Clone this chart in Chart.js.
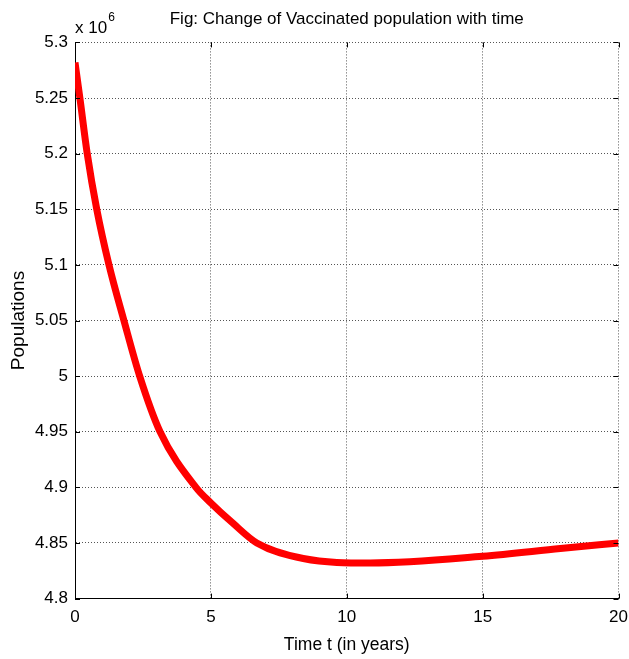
<!DOCTYPE html>
<html>
<head>
<meta charset="utf-8">
<title>Vaccinated population</title>
<script src="https://cdn.jsdelivr.net/npm/chart.js@4.4.1/dist/chart.umd.min.js"></script>
<style>
  html, body { margin: 0; padding: 0; background: #fff; }
  canvas { display: block; }
</style>
</head>
<body>
<canvas id="chart" width="629" height="659"></canvas>
<script>
// time in years, population in millions (axis multiplier x 10^6)
const years = [0, 0.18, 0.45, 0.80, 1.25, 1.80, 2.38, 3.13, 4.45, 5.0, 5.8, 6.69, 8.4, 10.87, 15, 17.86, 20];
const vaccinated = [5.282, 5.25, 5.2, 5.15, 5.1, 5.05, 5.0, 4.95, 4.9, 4.886, 4.868, 4.85, 4.836, 4.832, 4.838, 4.845, 4.85];
const xTicks = [0, 5, 10, 15, 20];
const yMin = 4.8, yMax = 5.3, yStep = 0.05;

const FONT = '"Liberation Sans", Arial, sans-serif';
const titleText = 'Fig: Change of Vaccinated population with time';

// inward tick marks on all four sides, the figure title and the 10^6 multiplier
const matlabFrame = {
  id: 'matlabFrame',
  afterDraw(chart) {
    const { ctx, chartArea: a, scales } = chart;
    const len = 5;
    ctx.save();
    ctx.strokeStyle = '#000';
    ctx.lineWidth = 1;
    ctx.beginPath();
    scales.x.ticks.forEach(t => {
      const x = Math.round(scales.x.getPixelForValue(t.value)) + 0.5;
      ctx.moveTo(x, a.bottom); ctx.lineTo(x, a.bottom - len);
      ctx.moveTo(x, a.top); ctx.lineTo(x, a.top + len);
    });
    scales.y.ticks.forEach(t => {
      const y = Math.round(scales.y.getPixelForValue(t.value)) + 0.5;
      ctx.moveTo(a.left, y); ctx.lineTo(a.left + len, y);
      ctx.moveTo(a.right, y); ctx.lineTo(a.right - len, y);
    });
    ctx.stroke();

    ctx.fillStyle = '#000';
    ctx.font = '17px ' + FONT;
    ctx.textAlign = 'center';
    ctx.textBaseline = 'middle';
    ctx.fillText(titleText, (a.left + a.right) / 2, 19);

    ctx.textAlign = 'left';
    ctx.textBaseline = 'alphabetic';
    ctx.font = '17px ' + FONT;
    ctx.fillText('x 10', a.left, 33);
    const w = ctx.measureText('x 10').width;
    ctx.font = '12px ' + FONT;
    ctx.fillText('6', a.left + w + 1, 21);
    ctx.restore();
  }
};

new Chart(document.getElementById('chart'), {
  type: 'line',
  data: {
    datasets: [{
      label: 'Vaccinated',
      data: years.map((t, i) => ({ x: t, y: vaccinated[i] })),
      borderColor: '#ff0000',
      borderWidth: 7,
      pointRadius: 0,
      cubicInterpolationMode: 'monotone',
      fill: false
    }]
  },
  options: {
    responsive: false,
    animation: false,
    layout: { padding: { top: 42.4, right: 0, left: 0, bottom: 0 } },
    plugins: {
      legend: { display: false },
      tooltip: { enabled: false }
    },
    scales: {
      x: {
        type: 'linear',
        min: 0,
        max: 20,
        afterBuildTicks: s => { s.ticks = xTicks.map(v => ({ value: v })); },
        afterFit: s => {
          s.height = 60.4;
          s.paddingLeft = 0;
          s.paddingRight = 10.5;
        },
        grid: { color: '#555', lineWidth: 1, drawTicks: false },
        border: { display: true, color: '#000', width: 1, dash: [1, 2] },
        ticks: {
          color: '#000',
          padding: 9,
          font: { family: FONT, size: 17 },
          maxRotation: 0,
          autoSkip: false
        },
        title: {
          display: true,
          text: 'Time t (in years)',
          color: '#000',
          font: { family: FONT, size: 17.5 },
          padding: { top: 0, bottom: 3.5 }
        }
      },
      y: {
        min: yMin,
        max: yMax,
        afterFit: s => { s.width = 75; },
        grid: { color: '#555', lineWidth: 1, drawTicks: false },
        border: { display: true, color: '#000', width: 1, dash: [1, 2] },
        ticks: {
          stepSize: yStep,
          color: '#000',
          padding: 7,
          autoSkip: false,
          font: { family: FONT, size: 17 },
          callback: v => String(+v.toFixed(2))
        },
        title: {
          display: true,
          text: 'Populations',
          color: '#000',
          font: { family: FONT, size: 19 },
          padding: { top: 7, bottom: 0 }
        }
      }
    }
  },
  plugins: [matlabFrame]
});
</script>
</body>
</html>
